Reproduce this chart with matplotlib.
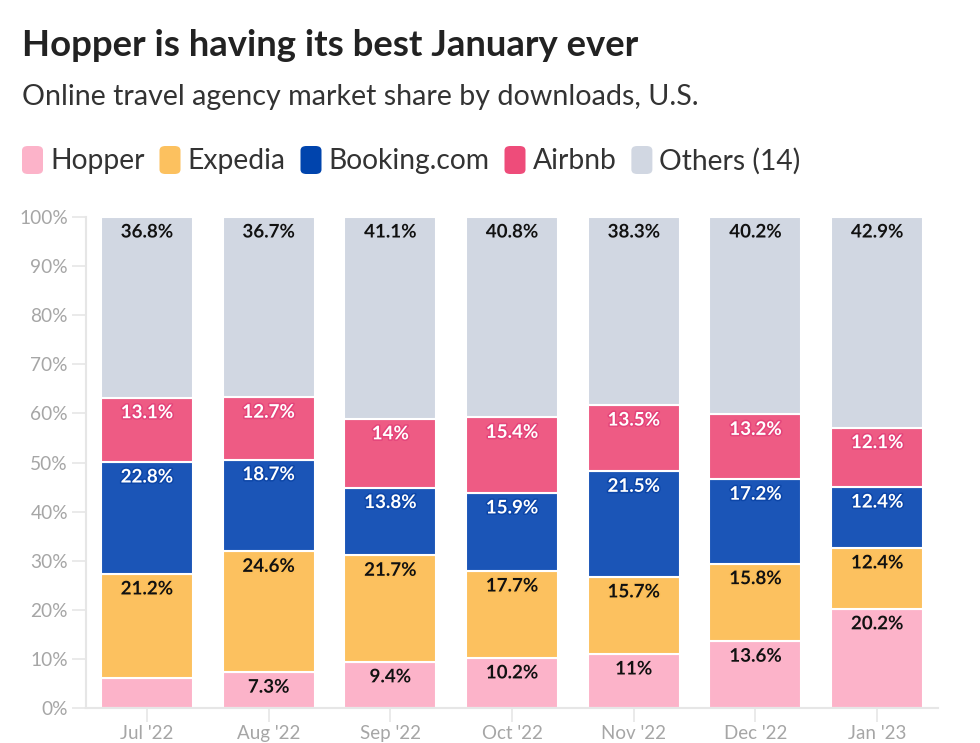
import matplotlib
matplotlib.use("Agg")
import matplotlib.pyplot as plt
from matplotlib.patches import FancyBboxPatch
import matplotlib.patheffects as pe
import numpy as np

plt.rcParams['font.family'] = ['Lato', 'DejaVu Sans']

months = ["Jul '22", "Aug '22", "Sep '22", "Oct '22", "Nov '22", "Dec '22", "Jan '23"]
series_names = ["Hopper", "Expedia", "Booking.com", "Airbnb", "Others (14)"]
hopper = [6.1, 7.3, 9.4, 10.2, 11.0, 13.6, 20.2]
expedia = [21.2, 24.6, 21.7, 17.7, 15.7, 15.8, 12.4]
booking = [22.8, 18.7, 13.8, 15.9, 21.5, 17.2, 12.4]
airbnb = [13.1, 12.7, 14.0, 15.4, 13.5, 13.2, 12.1]
others = [36.8, 36.7, 41.1, 40.8, 38.3, 40.2, 42.9]
yticks = [0, 10, 20, 30, 40, 50, 60, 70, 80, 90, 100]

colors = ["#fcb3c9", "#fcc15f", "#1b55b7", "#ee5b84", "#d1d7e2"]
halo_colors = ["#fcb3c9", "#fcbf58", "#0d46a8", "#e4447a", "#d1d7e2"]
legend_colors = ["#fcb3c9", "#fcc15f", "#0044ad", "#ee4c7a", "#d1d7e2"]
text_colors = ["#111111", "#111111", "#ffffff", "#ffffff", "#111111"]

fig = plt.figure(figsize=(9.8, 7.43), dpi=100)
W, H = 980, 743
ax = fig.add_axes([86 / W, 1 - 708 / H, (938 - 86) / W, (708 - 217) / H])

x = np.arange(len(months))
data = [hopper, expedia, booking, airbnb, others]
bottom = np.zeros(len(months))
bw = 0.756
px_per_unit = (708 - 217) / 100.0
for vals, c, hc, tc in zip(data, colors, halo_colors, text_colors):
    vals = np.array(vals)
    ax.bar(x, vals, bw, bottom=bottom, color=c, edgecolor="white", linewidth=1.5, zorder=2)
    for xi, v, b in zip(x, vals, bottom):
        if v >= 7:
            label = f"{v:g}%"
            ytop = b + v - 6.5 / px_per_unit
            ax.text(xi, ytop, label, ha="center", va="top", fontsize=13.5,
                    fontweight="bold", color=tc, zorder=3,
                    path_effects=[pe.withStroke(linewidth=2.2, foreground=hc)])
    bottom = bottom + vals

ax.set_xlim(-0.5, len(months) - 0.5)
ax.set_ylim(0, 100)
ax.set_yticks(yticks)
ax.set_yticklabels([f"{t}%" for t in yticks])
ax.set_xticks(x)
ax.set_xticklabels(months)
for s in ["top", "right"]:
    ax.spines[s].set_visible(False)
for s in ["left", "bottom"]:
    ax.spines[s].set_color("#e6e6e6")
    ax.spines[s].set_linewidth(1.5)
ax.tick_params(axis="y", length=10, width=1.2, color="#e6e6e6", labelsize=13.8,
               labelcolor="#a6a6a6", pad=3)
ax.tick_params(axis="x", length=10, width=1.2, color="#e6e6e6", labelsize=13.5,
               labelcolor="#a6a6a6", pad=2)

fig.text(22 / W, 1 - 45 / H, "Hopper is having its best January ever",
         fontsize=26.3, fontweight="bold", color="#222222", ha="left", va="center")
fig.text(22 / W, 1 - 97 / H, "Online travel agency market share by downloads, U.S.",
         fontsize=20.6, color="#333333", ha="left", va="center")

# legend
fig.canvas.draw()
renderer = fig.canvas.get_renderer()
cur = 22
ly = 161
for name, c in zip(series_names, legend_colors):
    sq_w, sq_h = 21, 28
    p = FancyBboxPatch((cur / W, (H - 160 - sq_h / 2) / H), sq_w / W, sq_h / H,
                       boxstyle="round,pad=0,rounding_size=0.006",
                       transform=fig.transFigure, facecolor=c, edgecolor="none")
    fig.patches.append(p)
    t = fig.text((cur + sq_w + 7) / W, 1 - ly / H, name, fontsize=20.3,
                 color="#333333", ha="left", va="center")
    bb = t.get_window_extent(renderer)
    cur = bb.x1 + 15

fig.savefig("out.png", dpi=100)
